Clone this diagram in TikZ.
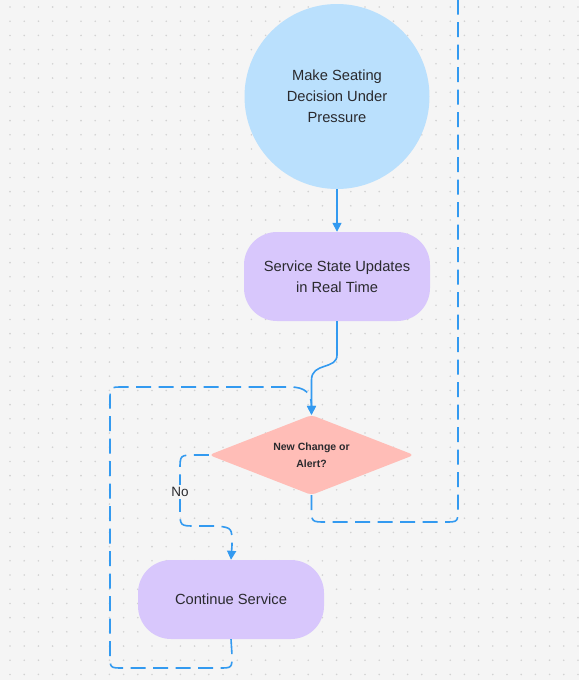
\documentclass[tikz,border=0pt]{standalone}
\usepackage{fontspec}
\setmainfont{Liberation Sans}
\usetikzlibrary{shapes.geometric,arrows.meta}
\definecolor{PageGray}{HTML}{F5F5F5}
\definecolor{DotGray}{HTML}{D2D2D2}
\definecolor{SkyBlue}{HTML}{BAE0FD}
\definecolor{Lilac}{HTML}{D8C7FC}
\definecolor{Salmon}{HTML}{FFBDB7}
\definecolor{Wire}{HTML}{339AF0}
\definecolor{InkGray}{HTML}{2A2A2E}
\newcommand{\DotGrid}[5]%
% first x, first y, columns, rows, spacing
{   \foreach \i in {0,...,#3}
    {   \foreach \j in {0,...,#4}
        {   \fill[DotGray] (#1+#5*\i,#2+#5*\j) circle (0.9pt);
        }
    }
}

\begin{document}
\begin{tikzpicture}
[   x=1pt, y=-1pt,
    ballbox/.style={circle, fill=SkyBlue, minimum size=185pt, inner sep=0, align=center, text=InkGray, font=\fontsize{14.7}{21}\selectfont},
    pillbox/.style={rectangle, rounded corners=33pt, fill=Lilac, minimum width=186pt, inner sep=0, align=center, text=InkGray, font=\fontsize{14.7}{21}\selectfont},
    gembox/.style={diamond, aspect=2.56, rounded corners=4pt, fill=Salmon, minimum width=205pt, minimum height=80pt, inner sep=0, align=center, text=InkGray, font=\bfseries\fontsize{10.5}{17}\selectfont},
    flow/.style={draw=Wire, line width=1.6pt, -{Triangle[length=9pt,width=9pt]}},
    loop/.style={flow, dash pattern=on 15pt off 7.5pt}
]
    \fill[PageGray] (0,0) rectangle (579,680);
    \useasboundingbox (0,0) rectangle (579,680);
    \DotGrid{10}{7}{40}{47}{14.2}

    \node[ballbox] (seat) at (337,96.5) {Make Seating\\Decision Under\\Pressure};
    \node[pillbox, minimum height=89pt] (state) at (337,276.5) {Service State Updates\\in Real Time};
    \node[gembox] (alert) at (311.5,455) {New Change or\\Alert?};
    \node[pillbox, minimum height=79pt] (serve) at (231,599.5) {Continue Service};
    \coordinate (back) at (458,-4);

    \draw[flow] (seat) -- (state);
    \draw[flow] (state.south) -- (337,355) .. controls (337,370) and (311.5,362) .. (311.5,380) -- (alert.north);

    % no branch
    \draw[loop] (alert.west) -- (196,455) .. controls (180,455) .. (180,470) -- (180,510)
        .. controls (180,526) .. (196,526) -- (218,526) .. controls (232,528) .. (232,545) -- (serve.north);
    \node[fill=PageGray, inner sep=2pt, text=InkGray, font=\fontsize{13.5}{15}\selectfont] (no) at (180,492) {No};

    % back round to the question
    \draw[loop] (serve.south) -- (232,655) .. controls (232,668) .. (219,668) -- (123,668)
        .. controls (110,668) .. (110,655) -- (110,400) .. controls (110,387) .. (123,387)
        -- (290,387) .. controls (305,387) and (311.5,393) .. (alert.north);

    % yes branch, up past the top
    \draw[loop, -] (alert.south) -- (311.5,508) .. controls (311.5,522) .. (326,522) -- (445,522)
        .. controls (458,522) .. (458,508) -- (back);
\end{tikzpicture}
\end{document}
